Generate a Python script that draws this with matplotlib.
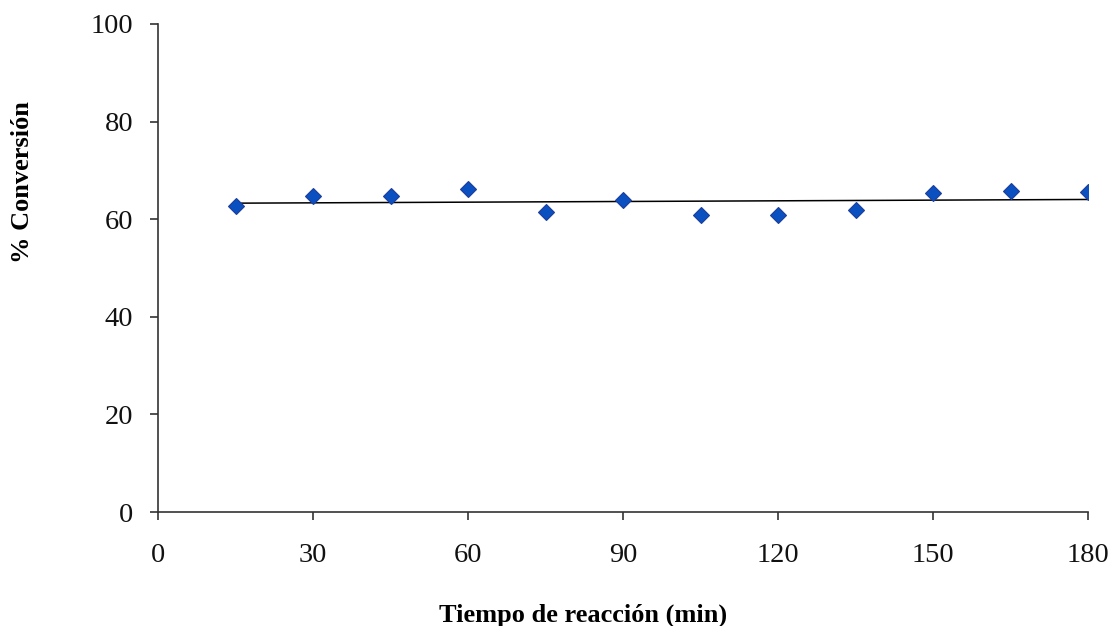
import numpy as np
import matplotlib
matplotlib.use("Agg")
import matplotlib.pyplot as plt

plt.rcParams['font.family'] = ['Liberation Serif', 'DejaVu Serif']

tiempo = [15, 30, 45, 60, 75, 90, 105, 120, 135, 150, 165, 180]
conversion = [62.7, 64.7, 64.7, 66.2, 61.4, 63.9, 60.9, 60.9, 61.9, 65.4, 65.7, 65.6]
xticks = [0, 30, 60, 90, 120, 150, 180]
yticks = [0, 20, 40, 60, 80, 100]

fig = plt.figure(figsize=(11.08, 6.26), dpi=100)
ax = fig.add_axes([0.1426, 0.182, 0.8394, 0.7797])

# linear trendline
coef = np.polyfit(tiempo, conversion, 1)
xt = np.array([min(tiempo), max(tiempo)])
ax.plot(xt, np.polyval(coef, xt), color='black', lw=1.1, zorder=2)

ax.plot(tiempo, conversion, linestyle='none', marker='D', markersize=8,
        markerfacecolor='#0a50c0', markeredgecolor='#1d3f9a', markeredgewidth=0.8, zorder=3)

ax.set_xlim(0, 180)
ax.set_ylim(0, 100)
ax.set_xticks(xticks)
ax.set_yticks(yticks)
for s in ['top', 'right']:
    ax.spines[s].set_visible(False)
for s in ['left', 'bottom']:
    ax.spines[s].set_color('#333333')
    ax.spines[s].set_linewidth(1.2)
ax.tick_params(axis='both', direction='out', length=6, width=1.2, color='#333333',
               labelsize=20.5, labelcolor='#111111')
ax.tick_params(axis='x', pad=16)
ax.tick_params(axis='y', pad=12)

fig.text(0.526, 0.017, 'Tiempo de reacción (min)', ha='center', va='center',
         fontsize=19, fontweight='bold')
fig.text(0.02, 0.709, '% Conversión', ha='center', va='center', rotation=90,
         fontsize=19, fontweight='bold')

fig.savefig('out.png', dpi=100, facecolor='white')
